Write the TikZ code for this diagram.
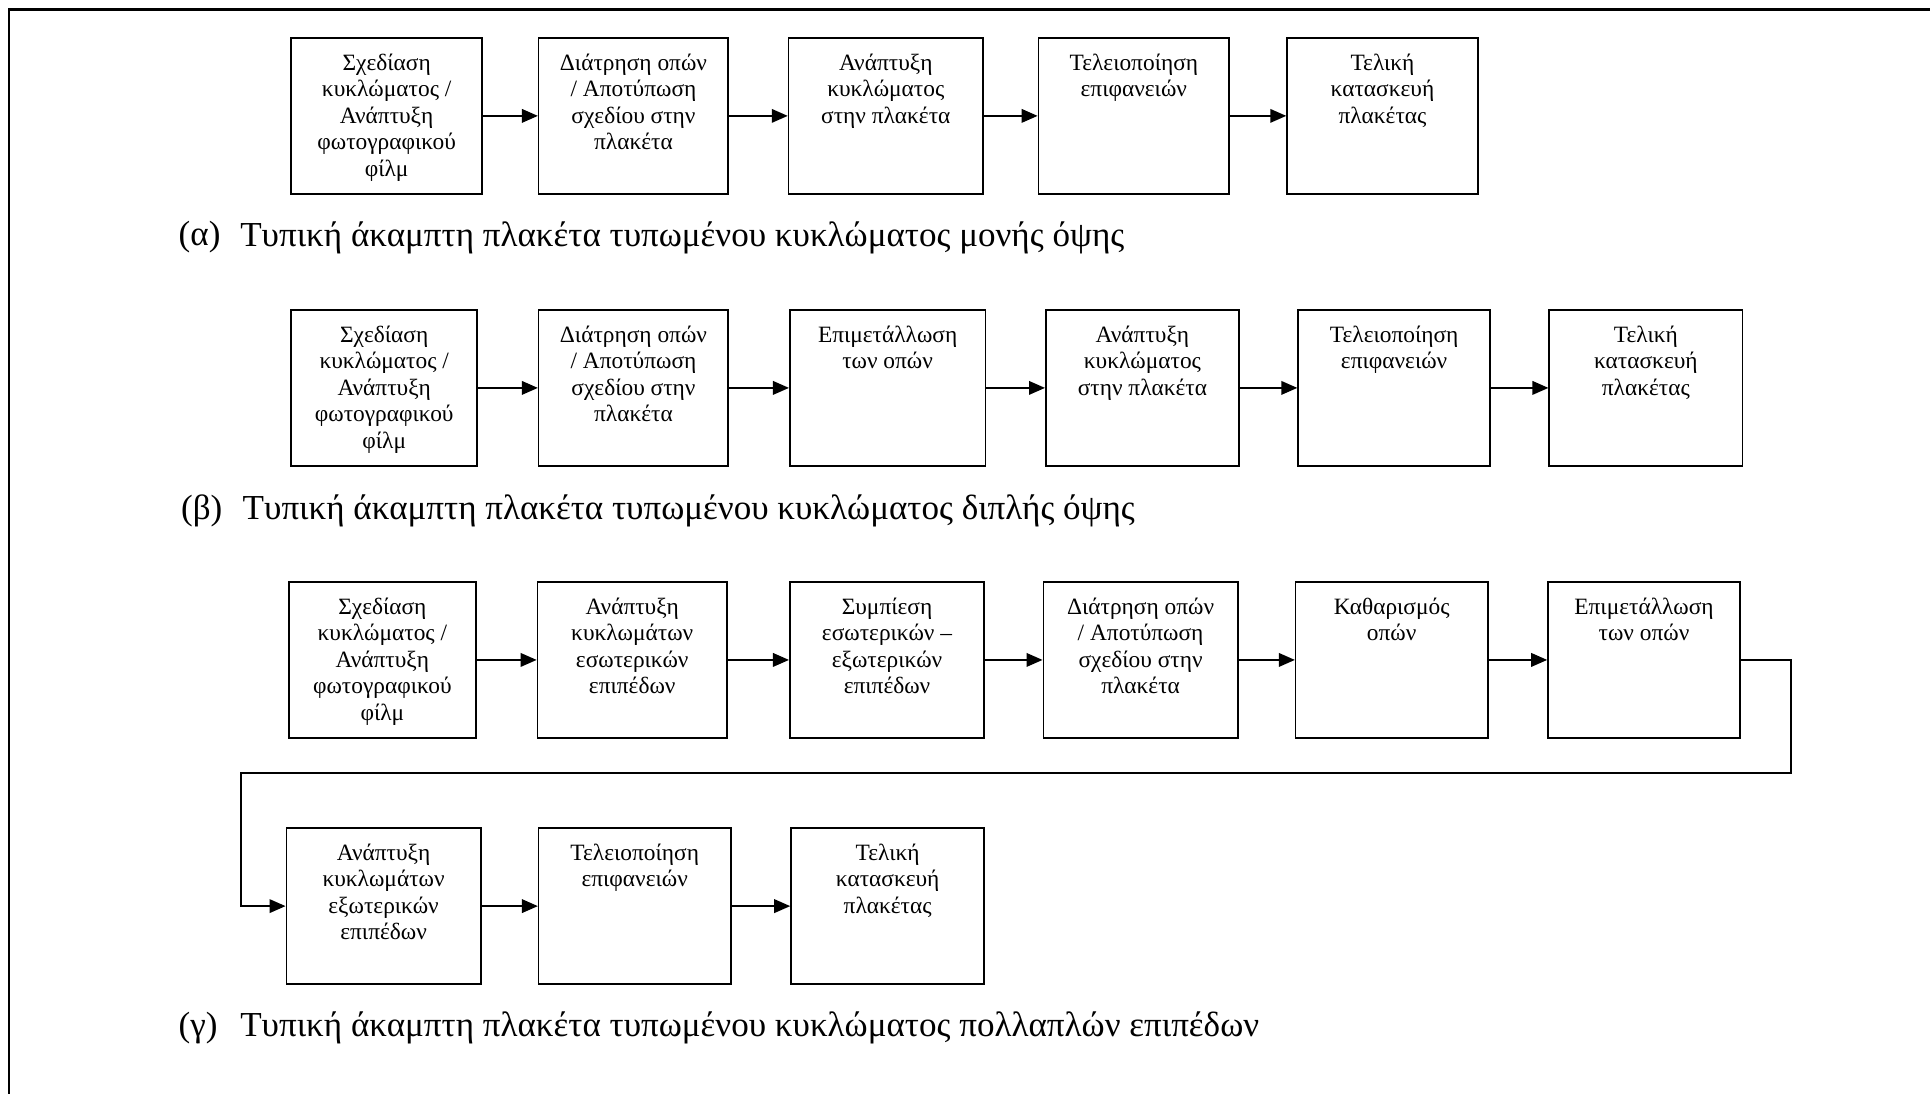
\documentclass[tikz,border=0pt]{standalone}
\usepackage{fontspec}
\setmainfont{Liberation Serif}
\usetikzlibrary{arrows.meta,calc}

% one process stage: name, left, right, top, bottom, text
\newcommand\stagebox[6]{%
  \node[stage, minimum width={#3pt-#2pt}, minimum height={#5pt-#4pt},
        anchor=north west] (#1) at (#2,#4) {};
  \node[stagetext] (#1t) at ([yshift=-13.5pt]#1.north) {#6};
}

\begin{document}
\begin{tikzpicture}[x=1pt,y=-1pt,
  stage/.style={draw, line width=1.3pt, rectangle, inner sep=0pt},
  stagetext/.style={anchor=north, align=center, inner sep=0pt,
                    font=\fontsize{19}{21.5}\selectfont},
  flow/.style={line width=1.5pt, -{Triangle[length=13pt,width=11pt]}},
  captag/.style={anchor=west, inner sep=0pt, font=\fontsize{28.5}{32}\selectfont},
  frameline/.style={line width=2.4pt}]

\useasboundingbox (0,0) rectangle (1568,888);

% outer frame (top and left edges)
\draw[frameline] (7.3,900) -- (7.3,8.1) -- (1580,8.1);

% ---- (a) single-sided board ----
\stagebox{a1}{236}{391}{30}{157}{Σχεδίαση\\κυκλώματος /\\Ανάπτυξη\\φωτογραφικού\\φίλμ}
\stagebox{a2}{437}{591}{30}{157}{Διάτρηση οπών\\/ Αποτύπωση\\σχεδίου στην\\πλακέτα}
\stagebox{a3}{640}{798}{30}{157}{Ανάπτυξη\\κυκλώματος\\στην πλακέτα}
\stagebox{a4}{843}{998}{30}{157}{Τελειοποίηση\\επιφανειών}
\stagebox{a5}{1045}{1200}{30}{157}{Τελική\\κατασκευή\\πλακέτας}
\draw[flow] (a1.east) -- (a2.west);
\draw[flow] (a2.east) -- (a3.west);
\draw[flow] (a3.east) -- (a4.west);
\draw[flow] (a4.east) -- (a5.west);
\node[captag] (capa) at (145,193) {(α)};
\node[captag] (capat) at (195,193) {Τυπική άκαμπτη πλακέτα τυπωμένου κυκλώματος μονής όψης};

% ---- (b) double-sided board ----
\stagebox{b1}{236}{387}{251}{378}{Σχεδίαση\\κυκλώματος /\\Ανάπτυξη\\φωτογραφικού\\φίλμ}
\stagebox{b2}{437}{591}{251}{378}{Διάτρηση οπών\\/ Αποτύπωση\\σχεδίου στην\\πλακέτα}
\stagebox{b3}{641}{800}{251}{378}{Επιμετάλλωση\\των οπών}
\stagebox{b4}{849}{1006}{251}{378}{Ανάπτυξη\\κυκλώματος\\στην πλακέτα}
\stagebox{b5}{1054}{1210}{251}{378}{Τελειοποίηση\\επιφανειών}
\stagebox{b6}{1258}{1415}{251}{378}{Τελική\\κατασκευή\\πλακέτας}
\draw[flow] (b1.east) -- (b2.west);
\draw[flow] (b2.east) -- (b3.west);
\draw[flow] (b3.east) -- (b4.west);
\draw[flow] (b4.east) -- (b5.west);
\draw[flow] (b5.east) -- (b6.west);
\node[captag] (capb) at (147,415) {(β)};
\node[captag] (capbt) at (197,415) {Τυπική άκαμπτη πλακέτα τυπωμένου κυκλώματος διπλής όψης};

% ---- (c) multilayer board ----
\stagebox{c1}{234}{386}{472}{599}{Σχεδίαση\\κυκλώματος /\\Ανάπτυξη\\φωτογραφικού\\φίλμ}
\stagebox{c2}{436}{590}{472}{599}{Ανάπτυξη\\κυκλωμάτων\\εσωτερικών\\επιπέδων}
\stagebox{c3}{641}{799}{472}{599}{Συμπίεση\\εσωτερικών –\\εξωτερικών\\επιπέδων}
\stagebox{c4}{847}{1005}{472}{599}{Διάτρηση οπών\\/ Αποτύπωση\\σχεδίου στην\\πλακέτα}
\stagebox{c5}{1052}{1208}{472}{599}{Καθαρισμός\\οπών}
\stagebox{c6}{1257}{1413}{472}{599}{Επιμετάλλωση\\των οπών}
\stagebox{d1}{232}{390}{672}{799}{Ανάπτυξη\\κυκλωμάτων\\εξωτερικών\\επιπέδων}
\stagebox{d2}{437}{593}{672}{799}{Τελειοποίηση\\επιφανειών}
\stagebox{d3}{642}{799}{672}{799}{Τελική\\κατασκευή\\πλακέτας}
\draw[flow] (c1.east) -- (c2.west);
\draw[flow] (c2.east) -- (c3.west);
\draw[flow] (c3.east) -- (c4.west);
\draw[flow] (c4.east) -- (c5.west);
\draw[flow] (c5.east) -- (c6.west);
\coordinate (wrapR) at (1455,628);
\coordinate (wrapL) at (196,628);
\draw[flow] (c6.east) -| (wrapR) -- (wrapL) |- (d1.west);
\draw[flow] (d1.east) -- (d2.west);
\draw[flow] (d2.east) -- (d3.west);
\node[captag] (capc) at (145,835) {(γ)};
\node[captag] (capct) at (195,835) {Τυπική άκαμπτη πλακέτα τυπωμένου κυκλώματος πολλαπλών επιπέδων};

\end{tikzpicture}
\end{document}
